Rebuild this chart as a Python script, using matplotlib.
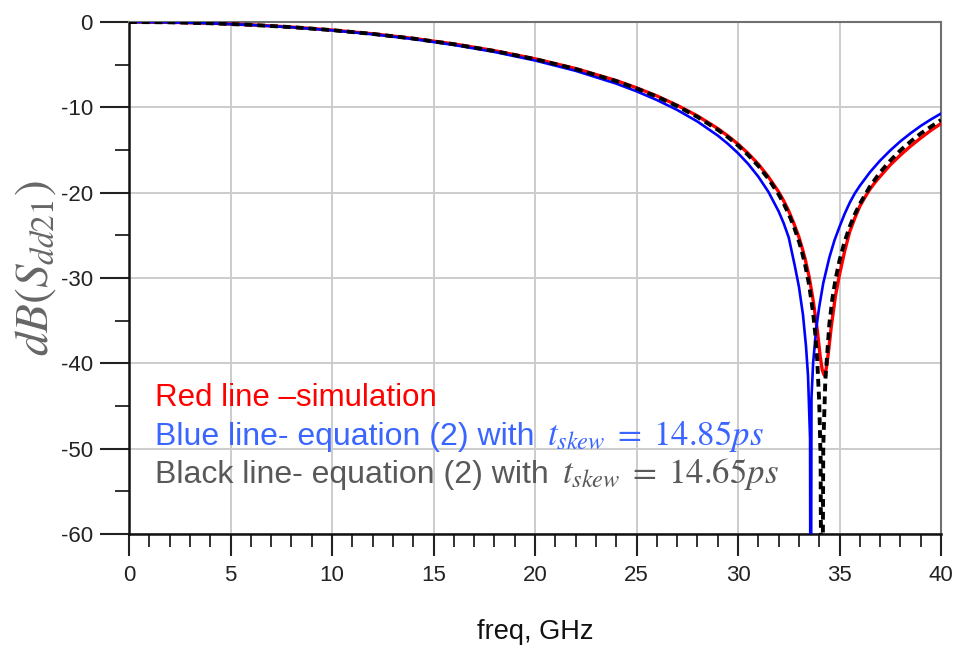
import matplotlib
matplotlib.use("Agg")
import matplotlib.pyplot as plt
from matplotlib.ticker import MultipleLocator

plt.rcParams['font.family'] = ['Liberation Sans', 'DejaVu Sans']
plt.rcParams['mathtext.fontset'] = 'stix'
plt.rcParams['axes.unicode_minus'] = False

# values (freq in GHz, dB)
red_f = [0, 2, 4, 6, 8, 10, 12, 14, 16, 18, 20, 22, 24, 25, 26, 27, 28, 29,
         29.5, 30, 30.5, 31, 31.5, 32, 32.25, 32.5, 32.75, 33, 33.15, 33.3,
         33.5, 33.7, 33.9, 34.05, 34.15, 34.25, 34.35, 34.45, 34.6, 34.8, 35,
         35.25, 35.5, 35.75, 36, 36.25, 36.5, 36.75, 37, 37.5, 38, 38.5, 39,
         39.5, 40]
red_db = [0, -0.035, -0.14, -0.33, -0.59, -0.94, -1.38, -1.92, -2.57, -3.36,
          -4.31, -5.45, -6.86, -7.71, -8.66, -9.75, -11.0, -12.48, -13.35,
          -14.3, -15.4, -16.65, -18.15, -19.9, -20.95, -22.15, -23.6, -25.2,
          -26.4, -27.7, -29.8, -32.6, -36.0, -39.2, -40.8, -41.4, -40.6, -38.8,
          -35.6, -32.1, -29.6, -26.9, -24.6, -23.0, -21.6, -20.55, -19.6,
          -18.8, -18.1, -16.75, -15.6, -14.55, -13.6, -12.7, -11.9]

blue_f = [0, 2, 4, 6, 8, 10, 12, 14, 16, 18, 20, 22, 24, 25, 26, 27, 28, 29,
          29.5, 30, 30.5, 31, 31.5, 32, 32.25, 32.5, 32.8, 33.0, 33.2, 33.35,
          33.45, 33.55, 33.58, 33.62, 33.7, 33.85, 34.0, 34.2, 34.5, 34.75, 35,
          35.25, 35.5, 35.75, 36, 36.5, 37, 37.5, 38, 38.5, 39, 39.5, 40]
blue_db = [0, -0.04, -0.15, -0.35, -0.62, -0.98, -1.44, -2.0, -2.69, -3.51,
           -4.51, -5.72, -7.22, -8.12, -9.14, -10.3, -11.66, -13.3, -14.27,
           -15.37, -16.63, -18.12, -19.91, -22.18, -23.58, -25.26, -28.6, -31.0,
           -34.3, -38.0, -41.5, -48.8, -90, -44.0, -40.0, -36.0, -33.4, -30.6,
           -27.6, -25.6, -24.0, -22.5, -21.2, -20.1, -19.2, -17.6, -16.24,
           -15.05, -13.98, -13.04, -12.18, -11.42, -10.73]

black_f = [0, 2, 4, 6, 8, 10, 12, 14, 16, 18, 20, 22, 24, 25, 26, 27, 28, 29,
           29.5, 30, 30.5, 31, 31.5, 32, 32.25, 32.5, 32.75, 33, 33.15, 33.3,
           33.5, 33.7, 33.8, 33.9, 34.0, 34.07, 34.13, 34.2, 34.3, 34.5, 34.65,
           34.8, 35, 35.25, 35.5, 35.75, 36, 36.5, 37, 37.5, 38, 38.5, 39,
           39.5, 40]
black_db = [0, -0.037, -0.148, -0.336, -0.602, -0.954, -1.398, -1.944, -2.604,
            -3.399, -4.354, -5.509, -6.925, -7.786, -8.742, -9.853, -11.12,
            -12.62, -13.49, -14.47, -15.59, -16.86, -18.37, -20.19, -21.27,
            -22.51, -23.95, -25.69, -26.92, -28.36, -30.76, -34.08, -36.37,
            -39.51, -44.47, -51.2, -90, -49.8, -42.1, -35.38, -32.42, -30.22,
            -27.95, -25.76, -24.01, -22.56, -21.32, -19.27, -17.62, -16.25,
            -15.04, -14.02, -13.07, -12.27, -11.48]

fig = plt.figure(figsize=(9.59, 6.47), dpi=100)
ax = fig.add_axes([129/959, 1 - 534/647, 812/959, 512/647])

ax.plot(red_f, red_db, color='#ff0000', lw=2.4, zorder=3)
ax.plot(blue_f, blue_db, color='#0000ff', lw=1.9, zorder=4)
ax.plot(black_f, black_db, color='black', lw=2.8, dashes=(2.0, 1.3), zorder=5)

ax.set_xlim(0, 40)
ax.set_ylim(-60, 0)
ax.xaxis.set_major_locator(MultipleLocator(5))
ax.xaxis.set_minor_locator(MultipleLocator(1))
ax.yaxis.set_major_locator(MultipleLocator(10))
ax.yaxis.set_minor_locator(MultipleLocator(5))
ax.grid(True, which='major', color='#cccccc', lw=1.4)
ax.set_axisbelow(True)

ax.tick_params(which='major', direction='out', length=16, width=1.5,
               color='#222222', labelsize=16, labelcolor='#222222', pad=6)
ax.tick_params(which='minor', direction='out', length=9, width=1.3,
               color='#222222')
ax.tick_params(axis='y', which='major', length=21, pad=5)
ax.tick_params(axis='y', which='minor', length=10)

for s in ['left', 'bottom']:
    ax.spines[s].set_color('#111111')
    ax.spines[s].set_linewidth(1.8)
for s in ['top', 'right']:
    ax.spines[s].set_color('#707070')
    ax.spines[s].set_linewidth(1.5)

ax.set_xlabel('freq, GHz', fontsize=19.5, color='#111111')
ax.xaxis.set_label_coords(0.5, -0.166)
ax.set_ylabel(r'$dB(S_{dd21})$', fontsize=34, color='#666666')
ax.yaxis.set_label_coords(-0.088, 0.52)

ax.text(0.032, 0.25, 'Red line \u2013simulation', color='#ff0000',
        fontsize=22.5, transform=ax.transAxes, va='baseline')

legend_rows = [
    ('Blue line- equation (2) with ', r'$t_{skew}\;=\;14.85ps$', '#3a66ff', 0.174),
    ('Black line- equation (2) with ', r'$t_{skew}\;=\;14.65ps$', '#595959', 0.099),
]
fig.canvas.draw()
renderer = fig.canvas.get_renderer()
for plain, math, col, yb in legend_rows:
    t1 = ax.text(0.032, yb, plain, color=col, fontsize=23,
                 transform=ax.transAxes, va='baseline')
    x1 = t1.get_window_extent(renderer).x1
    xa = ax.transAxes.inverted().transform((x1 + 4, 0))[0]
    ax.text(xa, yb, math, color=col, fontsize=25,
            transform=ax.transAxes, va='baseline')

fig.savefig('out.png', dpi=100)
